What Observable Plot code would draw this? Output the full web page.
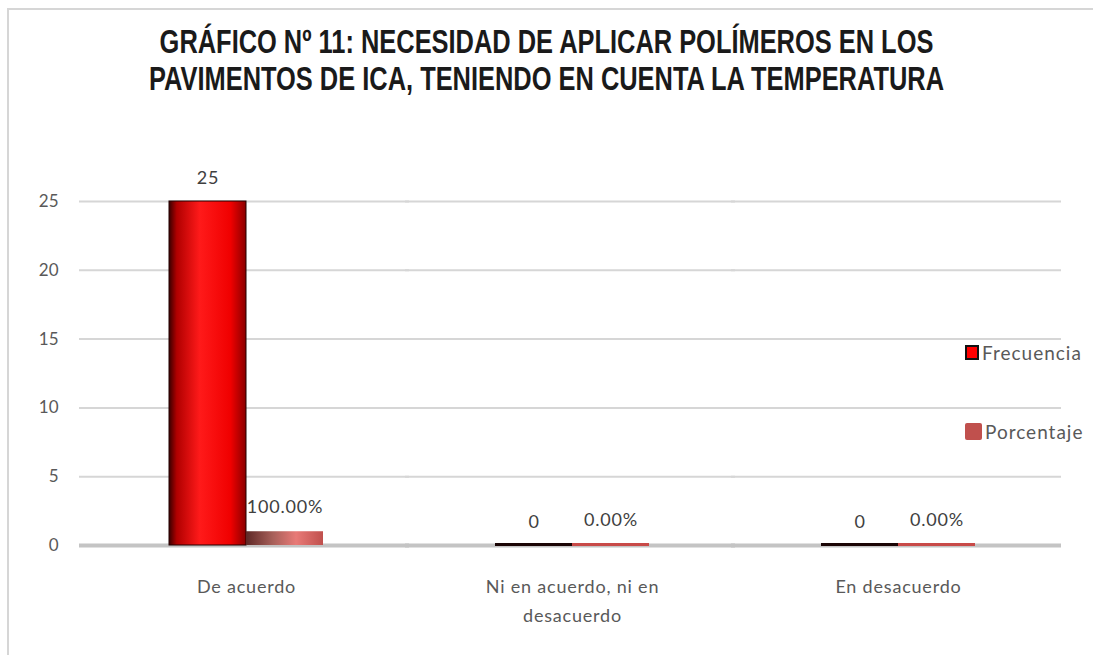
<!DOCTYPE html>
<html><head><meta charset="utf-8">
<script src="https://cdn.jsdelivr.net/npm/d3@7"></script>
<script src="https://cdn.jsdelivr.net/npm/@observablehq/plot@0.6"></script>
<style>
body{margin:0;background:#fff;width:1093px;height:655px;overflow:hidden;position:relative;font-family:Lato,"Open Sans",sans-serif}
#bt{position:absolute;left:7px;top:8px;width:1086px;height:2px;background:#d6d6d6}
#bl{position:absolute;left:7px;top:8px;width:2px;height:647px;background:#d6d6d6}
#title{position:absolute;left:0;top:23px;width:1093px;text-align:center;font-weight:bold;font-size:33px;font-family:"Liberation Sans",Arial,sans-serif;line-height:37px;color:#1a1a1a;transform-origin:546.5px 0}
#chart{position:absolute;left:0;top:110px}
.leg{position:absolute;left:965px;font-size:19px;letter-spacing:1px;color:#595959;display:flex;align-items:center;gap:3px}
.sw{display:inline-block}
</style></head>
<body>
<div id="bt"></div><div id="bl"></div>
<div id="title"><span id="t1">GRÁFICO Nº 11: NECESIDAD DE APLICAR POLÍMEROS EN LOS</span><br><span id="t2">PAVIMENTOS DE ICA, TENIENDO EN CUENTA LA TEMPERATURA</span></div>
<div id="chart"></div>
<div class="leg" style="top:341px"><span class="sw" style="background:#ff0000;border:2px solid #111;width:10px;height:11px"></span>Frecuencia</div>
<div class="leg" style="top:420px"><span class="sw" style="background:#c0504d;width:17px;height:17px;border-radius:2px"></span>Porcentaje</div>
<script>
const categories = ["De acuerdo", "Ni en acuerdo, ni en desacuerdo", "En desacuerdo"];
const categoryLabels = ["De acuerdo", "Ni en acuerdo, ni en\ndesacuerdo", "En desacuerdo"];
const series = ["Frecuencia", "Porcentaje"];
const frecuencia = [25, 0, 0];
const porcentaje = [1, 0, 0];
const frecuenciaLabels = ["25", "0", "0"];
const porcentajeLabels = ["100.00%", "0.00%", "0.00%"];
const yTicks = [0, 5, 10, 15, 20, 25];

const freqData = categories.map((c, i) => ({category: c, series: series[0], value: frecuencia[i], label: frecuenciaLabels[i]}));
const pctData = categories.map((c, i) => ({category: c, series: series[1], value: porcentaje[i], label: porcentajeLabels[i]}));
const labelOf = new Map(categories.map((c, i) => [c, categoryLabels[i]]));

// fit the title to the reference width (condensed look)
const t2 = document.getElementById("t2").getBoundingClientRect().width;
document.getElementById("title").style.transform = `scaleX(${795 / t2})`;

const defs = () => {
  const d = d3.create("svg:defs");
  const g1 = d.append("linearGradient").attr("id", "gF").attr("x1", 0).attr("x2", 1).attr("y1", 0).attr("y2", 0);
  [[0, "#3a0000"], [0.1, "#b00000"], [0.4, "#ff1a1a"], [0.8, "#f00000"], [1, "#8a0000"]]
    .forEach(([o, c]) => g1.append("stop").attr("offset", o).attr("stop-color", c));
  const g2 = d.append("linearGradient").attr("id", "gP").attr("x1", 0).attr("x2", 1).attr("y1", 0).attr("y2", 0);
  [[0, "#5e2826"], [0.35, "#a8605a"], [0.65, "#e87a77"], [1, "#c0504d"]]
    .forEach(([o, c]) => g2.append("stop").attr("offset", o).attr("stop-color", c));
  return d.node();
};

const chart = Plot.plot({
  width: 1093,
  height: 545,
  marginTop: 91,
  marginBottom: 110,
  marginLeft: 82,
  marginRight: 32,
  style: {fontFamily: "Lato, 'Open Sans', sans-serif", background: "transparent", color: "#595959"},
  fx: {domain: categories, padding: 0, axis: null},
  x: {domain: series, paddingInner: 0, paddingOuter: 1.09, axis: null},
  y: {domain: [0, 25], axis: null},
  marks: [
    defs,
    Plot.ruleY(yTicks.filter(t => t > 0), {stroke: "#d6d6d6", strokeWidth: 2, insetLeft: -4}),
    Plot.ruleY([0], {stroke: "#c4c4c4", strokeWidth: 4, insetLeft: -4}),
    Plot.axisY({ticks: yTicks, tickSize: 0, tickPadding: 25, fontSize: 17, fill: "#595959", label: null}),
    Plot.axisFx({anchor: "bottom", tickSize: 0, tickPadding: 27, fontSize: 18, lineHeight: 1.6,
                 fill: "#595959", label: null, tickFormat: c => labelOf.get(c)}),
    Plot.barY(freqData, {fx: "category", x: "series", y: "value", fill: "url(#gF)", stroke: "#200000", strokeWidth: 1}),
    Plot.barY(pctData, {fx: "category", x: "series", y: "value", fill: "url(#gP)"}),
    Plot.tickY(freqData.filter(d => d.value === 0), {fx: "category", x: "series", y: "value", stroke: "#1a0505", strokeWidth: 3, dy: -1}),
    Plot.tickY(pctData.filter(d => d.value === 0), {fx: "category", x: "series", y: "value", stroke: "#c84a48", strokeWidth: 3, dy: -1}),
    Plot.text(freqData, {fx: "category", x: "series", y: "value", text: "label", dy: -23, fill: "#404040", fontSize: 18}),
    Plot.text(pctData, {fx: "category", x: "series", y: "value", text: "label", dy: -25, fill: "#404040", fontSize: 18})
  ]
});
d3.select(chart).selectAll("g[aria-label='text'] text, g[aria-label='fx-axis tick label'] text").style("letter-spacing", "0.8px");
document.getElementById("chart").appendChild(chart);
</script>
</body></html>
